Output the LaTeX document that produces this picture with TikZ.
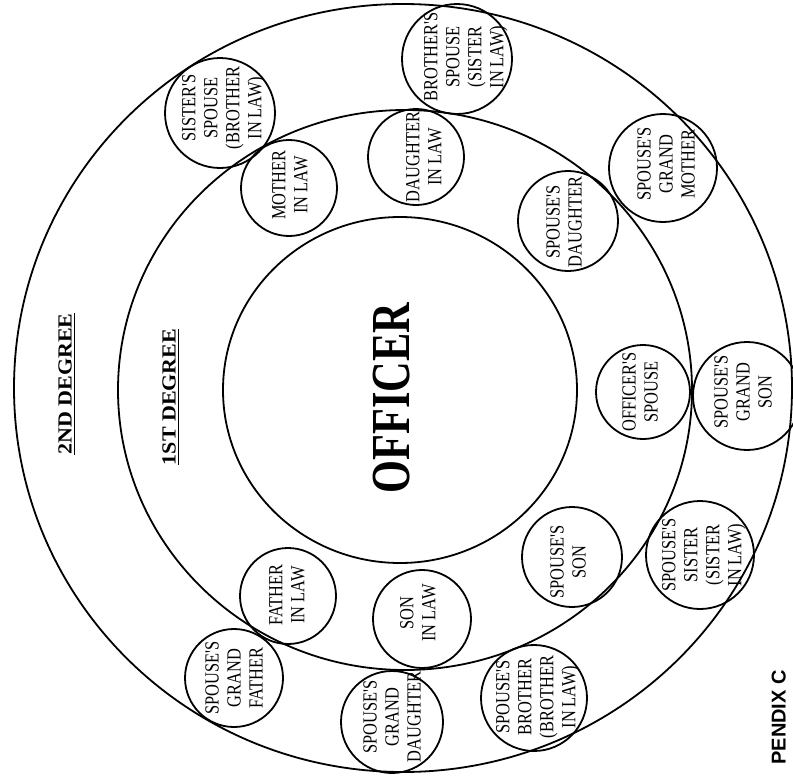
\documentclass[tikz,border=0pt]{standalone}
\usepackage{fontspec}
\setmainfont{Liberation Serif}
\newfontfamily\cf[FakeStretch=0.82]{Liberation Serif}
\newfontfamily\bigf[FakeStretch=0.77]{Liberation Serif}
\newfontfamily\wf[FakeStretch=1.1]{Liberation Serif}
\newfontfamily\apf{Liberation Sans}
\tikzset{
  ringline/.style={draw, line width=1.8pt},
  relc/.style={circle, draw, line width=1.8pt, inner sep=0pt, minimum size=#1},
  lbl/.style={rotate=90, align=center, inner sep=0pt, font=\cf\fontsize{20}{22}\selectfont},
  deg/.style={rotate=90, inner sep=0pt, font=\wf\bfseries\fontsize{20}{22}\selectfont},
}
\begin{document}
\begin{tikzpicture}[x=1pt, y=-1pt]
\useasboundingbox (0,0) rectangle (793,779);
\fill[white] (0,0) rectangle (793,779);
% rings
\draw[ringline] (403,388) ellipse [x radius=389, y radius=384];
\draw[ringline] (405,390) ellipse [x radius=287, y radius=280];
\draw[ringline] (400,390) ellipse [x radius=177, y radius=173];
% centre
\node[rotate=90, inner sep=0pt, font=\bigf\bfseries\fontsize{55}{60}\selectfont] (officer) at (392,398) {OFFICER};
% degree labels
\node[deg] (deg2) at (65,384) {2ND DEGREE};
\draw[line width=1.3pt] ([xshift=2.5pt]deg2.south west) -- ([xshift=2.5pt]deg2.south east);
\node[deg] (deg1) at (169,397) {1ST DEGREE};
\draw[line width=1.3pt] ([xshift=2.5pt]deg1.south west) -- ([xshift=2.5pt]deg1.south east);
% relation circles
\node[relc=110pt] (c1) at (220,113) {};
\node[lbl] (t1) at (224,108) {SISTER'S\\SPOUSE\\(BROTHER\\IN LAW)};
\node[relc=96pt] (c2) at (289,188) {};
\node[lbl] (t2) at (290,185) {MOTHER\\IN LAW};
\node[relc=96pt] (c3) at (416,157) {};
\node[lbl] (t3) at (424,157) {DAUGHTER\\IN LAW};
\node[relc=110pt] (c4) at (457,59) {};
\node[lbl] (t4) at (466,57) {BROTHER'S\\SPOUSE\\(SISTER\\IN LAW)};
\node[relc=108pt] (c5) at (663,168) {};
\node[lbl] (t5) at (666,164) {SPOUSE'S\\GRAND\\MOTHER};
\node[relc=100pt] (c6) at (568,221) {};
\node[lbl] (t6) at (564,222) {SPOUSE'S\\DAUGHTER};
\node[relc=94pt] (c7) at (643,392) {};
\node[lbl] (t7) at (640,392) {OFFICER'S\\SPOUSE};
\node[relc=108pt] (c8) at (747,396) {};
\node[lbl] (t8) at (743,392) {SPOUSE'S\\GRAND\\SON};
\node[relc=100pt] (c9) at (572,557) {};
\node[lbl] (t9) at (568,562) {SPOUSE'S\\SON};
\node[relc=108pt] (c10) at (700,555) {};
\node[lbl] (t10) at (704,555) {SPOUSE'S\\SISTER\\(SISTER\\IN LAW)};
\node[relc=98pt] (c11) at (422,619) {};
\node[lbl] (t11) at (418,613) {SON\\IN LAW};
\node[relc=106pt] (c12) at (534,698) {};
\node[lbl] (t12) at (538,697) {SPOUSE'S\\BROTHER\\(BROTHER\\IN LAW)};
\node[relc=102pt] (c13) at (392,722) {};
\node[lbl] (t13) at (392,717) {SPOUSE'S\\GRAND\\DAUGHTER};
\node[relc=96pt] (c14) at (288,596) {};
\node[lbl] (t14) at (287,595) {FATHER\\IN LAW};
\node[relc=98pt] (c15) at (234,678) {};
\node[lbl] (t15) at (234,678) {SPOUSE'S\\GRAND\\FATHER};
% appendix mark
\node[rotate=90, inner sep=0pt, anchor=south east, font=\apf\bfseries\fontsize{20}{24}\selectfont] (app) at (786,670) {PENDIX C};
\end{tikzpicture}
\end{document}
